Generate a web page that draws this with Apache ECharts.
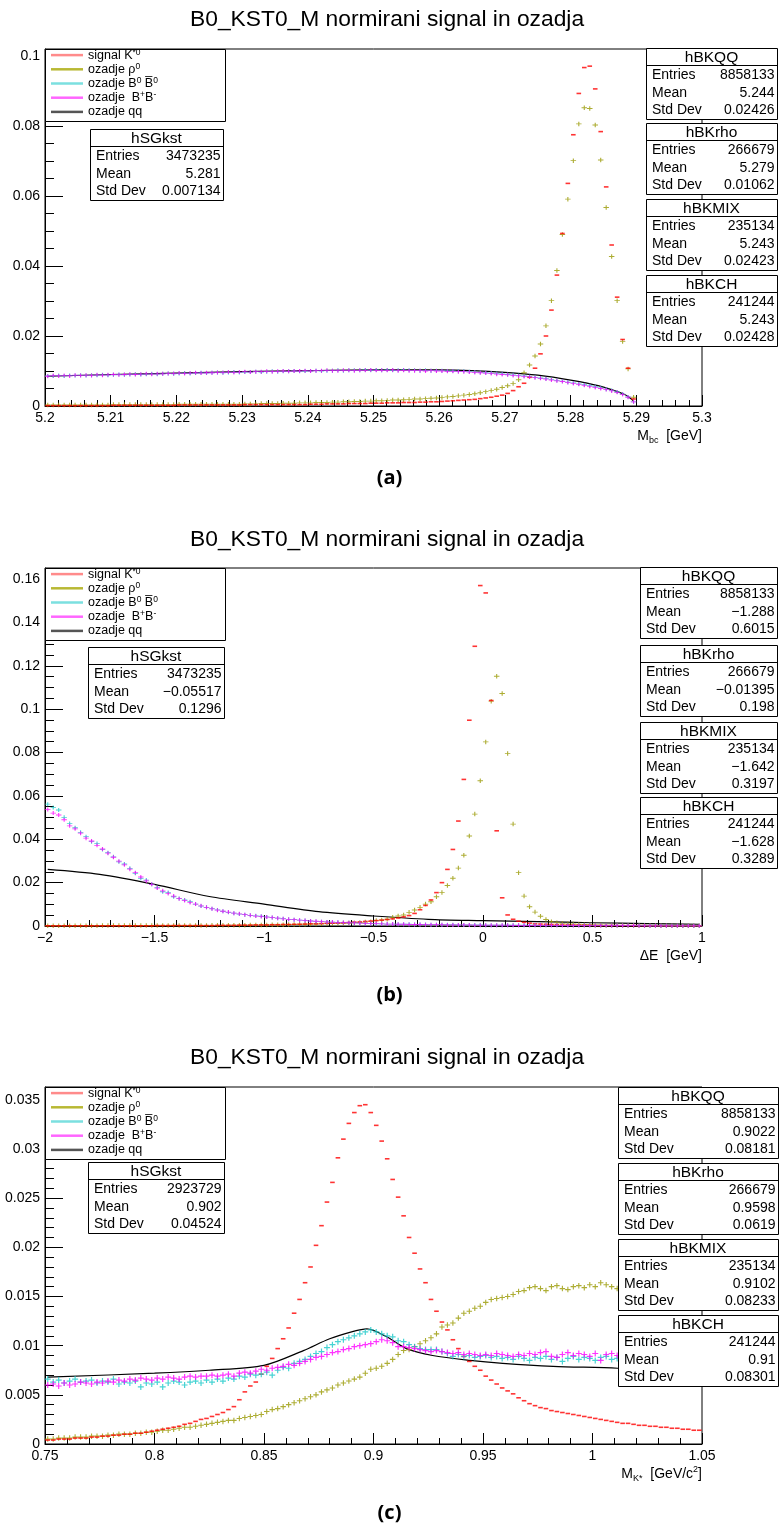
<!DOCTYPE html>
<html>
<head>
<meta charset="utf-8">
<script src="https://cdn.jsdelivr.net/npm/echarts@6/dist/echarts.min.js"></script>
<style>
html, body { margin: 0; padding: 0; background: #fff; }
#chart { width: 779px; height: 1529px; }
</style>
</head>
<body>
<div id="chart"></div>
<script>
var FONT = 'Liberation Sans, Arial, sans-serif';
var TITLE = 'B0_KST0_M normirani signal in ozadja';
var NAMES = ['signal K*0', 'ozadje rho0', 'ozadje B0 B0bar', 'ozadje B+B-', 'ozadje qq'];

// histogram ranges, 120 bins each
var rangeA = [5.2, 5.3];
var rangeB = [-2, 1];
var rangeC = [0.75, 1.05];

// ---- panel (a): M_bc ----
var redA = [
  0.0001,0.0001,0.0001,0.0001,0.0001,0.0001,0.0001,0.0001,0.0001,0.0001,0.0001,0.0001,
  0.0002,0.0002,0.0002,0.0002,0.0002,0.0002,0.0002,0.0002,0.0002,0.0002,0.0002,0.0002,
  0.0003,0.0003,0.0003,0.0003,0.0003,0.0003,0.0003,0.0003,0.0003,0.0003,0.0003,0.0003,
  0.0004,0.0004,0.0004,0.0004,0.0004,0.0004,0.0004,0.0004,0.0004,0.0004,0.0004,0.0004,
  0.0005,0.0005,0.0005,0.0006,0.0006,0.0006,0.0006,0.0007,0.0007,0.0007,0.0007,0.0008,
  0.0008,0.0008,0.0009,0.0009,0.0009,0.001,0.001,0.001,0.0011,0.0011,0.0012,0.0012,
  0.0013,0.0014,0.0015,0.0016,0.0017,0.0018,0.0019,0.0021,0.0023,0.0025,0.0028,0.0031,0.0036,0.0044,
  0.0055,0.0065,0.0082,0.0108,0.0149,0.020,0.0274,0.0374,0.0493,0.0636,0.0775,0.0893,
  0.0967,0.0971,0.0906,0.0784,0.0626,0.046,0.0311,0.019,0.0108,0.002,
  0,0,0,0,0,0,0,0,0,0,0,0
];
var oliveA = [
  0.0003,0.0003,0.0003,0.0003,0.0003,0.0003,0.0003,0.0003,0.0003,0.0003,0.0003,0.0003,
  0.0004,0.0004,0.0004,0.0004,0.0004,0.0004,0.0004,0.0004,0.0004,0.0004,0.0004,0.0004,
  0.0005,0.0005,0.0005,0.0005,0.0005,0.0005,0.0005,0.0005,0.0005,0.0005,0.0005,0.0005,
  0.0006,0.0006,0.0006,0.0007,0.0007,0.0007,0.0007,0.0008,0.0008,0.0008,0.0009,0.0009,
  0.0009,0.001,0.001,0.001,0.0011,0.0011,0.0012,0.0012,0.0013,0.0013,0.0014,0.0014,
  0.0015,0.0015,0.0016,0.0017,0.0017,0.0018,0.0019,0.002,0.002,0.0021,0.0022,0.0023,
  0.0024,0.0026,0.0027,0.0029,0.0031,0.0033,0.0035,0.0038,0.0041,0.0044,0.0048,0.0053,0.0058,0.0064,0.0075,0.0095,
  0.0117,0.0143,0.0177,0.0229,0.0301,0.0387,0.049,0.0591,0.0701,0.0806,
  0.0852,0.085,0.0803,0.0703,0.0567,0.0427,0.0301,0.0184,0.0106,0.0025,
  0,0,0,0,0,0,0,0,0,0,0,0
];
var cyanA = [
  0.0086,0.0086,0.0087,0.0086,0.0087,0.0087,0.0088,0.0087,0.0088,0.0088,0.0089,0.0088,
  0.0089,0.009,0.0089,0.009,0.0091,0.009,0.0091,0.0092,0.0091,0.0092,0.0093,0.0092,
  0.0093,0.0094,0.0093,0.0094,0.0095,0.0094,0.0095,0.0096,0.0095,0.0096,0.0097,0.0096,
  0.0097,0.0097,0.0098,0.0097,0.0098,0.0099,0.0098,0.0099,0.0099,0.01,0.0099,0.01,
  0.01,0.0101,0.01,0.0101,0.0101,0.0102,0.0101,0.0102,0.0102,0.0102,0.0103,0.0102,
  0.0103,0.0102,0.0103,0.0102,0.0102,0.0103,0.0102,0.0102,0.0101,0.0102,0.0101,0.0101,
  0.0101,0.01,0.01,0.0099,0.0099,0.0098,0.0097,0.0096,0.0095,0.0094,0.0093,0.0092,
  0.009,0.0089,0.0087,0.0086,0.0084,0.0082,0.008,0.0078,0.0076,0.0073,0.0071,0.0068,
  0.0066,0.0063,0.0061,0.0058,0.0055,0.0052,0.0048,0.0044,0.004,0.0034,0.0026,0.0012,
  0,0,0,0,0,0,0,0,0,0,0,0
];
var magentaA = [
  0.0085,0.0087,0.0086,0.0087,0.0086,0.0088,0.0087,0.0088,0.0087,0.0089,0.0088,0.0089,
  0.009,0.0089,0.009,0.0091,0.009,0.0091,0.0092,0.0091,0.0092,0.0092,0.0093,0.0093,
  0.0094,0.0093,0.0094,0.0095,0.0094,0.0095,0.0095,0.0096,0.0096,0.0097,0.0096,0.0097,
  0.0098,0.0097,0.0098,0.0098,0.0099,0.0098,0.0099,0.01,0.0099,0.01,0.01,0.0101,
  0.01,0.0101,0.0101,0.0102,0.0101,0.0101,0.0102,0.0102,0.0101,0.0102,0.0102,0.0103,
  0.0102,0.0102,0.0102,0.0103,0.0101,0.0102,0.0101,0.0101,0.0101,0.01,0.0101,0.01,
  0.01,0.0099,0.0099,0.0098,0.0098,0.0097,0.0096,0.0095,0.0094,0.0093,0.0091,0.009,
  0.0089,0.0087,0.0086,0.0084,0.0083,0.0081,0.0079,0.0077,0.0074,0.0072,0.007,0.0067,
  0.0064,0.0062,0.0059,0.0056,0.0053,0.005,0.0047,0.0043,0.0039,0.0033,0.0025,0.0012,
  0,0,0,0,0,0,0,0,0,0,0,0
];
var blackAx = [5.2004, 5.21, 5.22, 5.23, 5.24, 5.25, 5.26, 5.265, 5.27, 5.275, 5.28, 5.2842, 5.2883, 5.2896];
var blackAy = [0.0085, 0.009, 0.0094, 0.0098, 0.0101, 0.0103, 0.0103, 0.0101, 0.0096, 0.0088, 0.0074, 0.0058, 0.0032, 0.0014];

// ---- panel (b): delta E ----
var redB = [
  0.0001,0.0001,0.0001,0.0001,0.0001,0.0001,0.0001,0.0001,0.0001,0.0001,
  0.0001,0.0001,0.0001,0.0001,0.0001,0.0001,0.0001,0.0001,0.0001,0.0001,
  0.0002,0.0002,0.0002,0.0002,0.0002,0.0002,0.0002,0.0002,0.0002,0.0002,
  0.0002,0.0003,0.0003,0.0003,0.0003,0.0004,0.0004,0.0004,0.0005,0.0005,
  0.0005,0.0006,0.0006,0.0007,0.0007,0.0008,0.0008,0.0009,0.001,0.001,
  0.0011,0.0012,0.0013,0.0014,0.0015,0.0016,0.0018,0.0019,0.0021,0.0023,
  0.0025,0.0027,0.003,0.0033,0.0037,0.0042,0.0048,0.0058,0.0075,0.0095,
  0.012,0.0154,0.02,0.0261,0.0353,0.0484,0.0676,0.0949,0.129,0.157,
  0.1536,0.104,0.0439,0.013,0.0051,0.0031,0.0022,0.0017,0.0013,0.001,
  0.0009,0.0008,0.0007,0.0006,0.0005,0.0005,0.0004,0.0004,0.0003,0.0003,
  0.0002,0.0002,0.0002,0.0002,0.0002,0.0002,0.0002,0.0002,0.0002,0.0002,
  0.0001,0.0001,0.0001,0.0001,0.0001,0.0001,0.0001,0.0001,0.0001,0.0001
];
var oliveB = [
  0.0001,0.0001,0.0001,0.0001,0.0001,0.0001,0.0001,0.0001,0.0001,0.0001,
  0.0002,0.0002,0.0002,0.0002,0.0002,0.0002,0.0002,0.0002,0.0002,0.0002,
  0.0002,0.0002,0.0002,0.0002,0.0002,0.0002,0.0002,0.0002,0.0002,0.0002,
  0.0003,0.0003,0.0003,0.0004,0.0004,0.0004,0.0004,0.0005,0.0005,0.0005,
  0.0005,0.0006,0.0006,0.0006,0.0007,0.0007,0.0008,0.0008,0.0009,0.0009,
  0.001,0.0011,0.0012,0.0012,0.0013,0.0014,0.0015,0.0016,0.0018,0.002,
  0.0025,0.0028,0.0031,0.004,0.0046,0.0051,0.0063,0.0074,0.0086,0.0101,
  0.0112,0.0135,0.0154,0.0187,0.022,0.0267,0.0326,0.0415,0.0516,0.067,
  0.0849,0.1037,0.1152,0.1072,0.0796,0.047,0.0246,0.0138,0.0089,0.0064,
  0.0045,0.003,0.002,0.0015,0.0012,0.001,0.0009,0.0008,0.0007,0.0006,
  0.0005,0.0005,0.0004,0.0004,0.0003,0.0003,0.0002,0.0002,0.0002,0.0002,
  0.0002,0.0002,0.0001,0.0001,0.0001,0.0001,0.0001,0.0001,0.0001,0.0001
];
var cyanB = [
  0.0562,0.0547,0.0535,0.0501,0.0473,0.0453,0.0432,0.0412,0.0389,0.0381,
  0.0353,0.0338,0.0319,0.0296,0.0286,0.0266,0.0243,0.022,0.0212,0.0192,
  0.0177,0.0158,0.0154,0.0135,0.0127,0.012,0.0112,0.0101,0.0092,0.0086,
  0.008,0.0074,0.0068,0.0063,0.0059,0.0055,0.0052,0.0049,0.0047,0.0045,
  0.0042,0.0039,0.0036,0.0034,0.0031,0.0029,0.0027,0.0025,0.0023,0.0021,
  0.002,0.0019,0.0018,0.0017,0.0016,0.0015,0.0014,0.0013,0.0012,0.0011,
  0.001,0.001,0.0009,0.0009,0.0008,0.0008,0.0008,0.0007,0.0007,0.0007,
  0.0006,0.0006,0.0006,0.0006,0.0006,0.0005,0.0005,0.0005,0.0005,0.0005,
  0.0004,0.0004,0.0004,0.0004,0.0004,0.0004,0.0004,0.0004,0.0004,0.0004,
  0.0003,0.0003,0.0003,0.0003,0.0003,0.0003,0.0003,0.0003,0.0003,0.0003,
  0.0002,0.0002,0.0002,0.0002,0.0002,0.0002,0.0002,0.0002,0.0002,0.0002,
  0.0001,0.0001,0.0001,0.0001,0.0001,0.0001,0.0001,0.0001,0.0001,0.0001
];
var magentaB = [
  0.0537,0.0521,0.0512,0.049,0.0462,0.0448,0.0428,0.0405,0.0392,0.0372,
  0.0355,0.0336,0.0317,0.0299,0.0282,0.0262,0.0246,0.0226,0.0208,0.0192,
  0.0175,0.0162,0.015,0.0138,0.0126,0.0118,0.0108,0.0101,0.0093,0.0086,
  0.0079,0.0073,0.0068,0.0064,0.0059,0.0056,0.0052,0.0049,0.0046,0.0044,
  0.0041,0.0039,0.0036,0.0033,0.0031,0.0029,0.0027,0.0025,0.0023,0.0022,
  0.002,0.0019,0.0018,0.0017,0.0016,0.0015,0.0014,0.0013,0.0012,0.0011,
  0.0011,0.001,0.0009,0.0009,0.0008,0.0008,0.0007,0.0007,0.0007,0.0006,
  0.0006,0.0006,0.0006,0.0005,0.0005,0.0005,0.0005,0.0005,0.0004,0.0004,
  0.0004,0.0004,0.0004,0.0004,0.0004,0.0003,0.0003,0.0003,0.0003,0.0003,
  0.0003,0.0003,0.0003,0.0003,0.0003,0.0002,0.0002,0.0002,0.0002,0.0002,
  0.0002,0.0002,0.0002,0.0002,0.0002,0.0002,0.0002,0.0002,0.0001,0.0001,
  0.0001,0.0001,0.0001,0.0001,0.0001,0.0001,0.0001,0.0001,0.0001,0.0001
];
var blackBx = [-1.9875, -1.75, -1.5, -1.25, -1, -0.75, -0.5, -0.25, 0, 0.25, 0.5, 0.75, 0.9875];
var blackBy = [0.0261, 0.0238, 0.0192, 0.0136, 0.0101, 0.0066, 0.0046, 0.0031, 0.0025, 0.002, 0.0015, 0.0011, 0.0008];

// ---- panel (c): M_K* ----
var redC = [
  0.0004,0.0004,0.0005,0.0005,0.0005,0.0006,0.0006,0.0006,0.0007,0.0007,
  0.0008,0.0008,0.0009,0.0009,0.001,0.001,0.0011,0.0011,0.0012,0.0013,
  0.0014,0.0015,0.0016,0.0017,0.0018,0.002,0.0021,0.0023,0.0025,0.0026,
  0.0028,0.003,0.0032,0.0035,0.0038,0.0045,0.0053,0.0059,0.0063,0.0071,
  0.0079,0.0087,0.0097,0.0107,0.0118,0.0133,0.0147,0.0164,0.018,0.0202,
  0.0222,0.0246,0.0266,0.0291,0.031,0.0326,0.0337,0.0344,0.0345,0.0337,
  0.0324,0.0308,0.029,0.0269,0.0251,0.0232,0.021,0.0194,0.0178,0.0164,
  0.0147,0.0135,0.0124,0.0116,0.0106,0.0097,0.0089,0.0084,0.0079,0.0075,
  0.0069,0.0065,0.0061,0.0057,0.0054,0.0051,0.0047,0.0044,0.0041,0.0039,
  0.0037,0.0036,0.0034,0.0033,0.0032,0.0031,0.003,0.0029,0.0028,0.0027,
  0.0026,0.0025,0.0024,0.0023,0.0022,0.0021,0.0021,0.002,0.0019,0.0019,
  0.0018,0.0018,0.0017,0.0017,0.0016,0.0016,0.0015,0.0015,0.0014,0.0014
];
var oliveC = [
  0.0005,0.0005,0.0006,0.0006,0.0006,0.0007,0.0007,0.0007,0.0008,0.0008,
  0.0008,0.0009,0.0009,0.001,0.001,0.001,0.0011,0.0011,0.0012,0.0012,
  0.0013,0.0014,0.0014,0.0015,0.0016,0.0017,0.0017,0.0018,0.0019,0.002,
  0.0021,0.0022,0.0023,0.0024,0.0024,0.0026,0.0027,0.0028,0.0029,0.003,
  0.0033,0.0035,0.0036,0.0038,0.004,0.0042,0.0044,0.0046,0.0048,0.005,
  0.0053,0.0055,0.0057,0.006,0.0062,0.0064,0.0066,0.0068,0.0072,0.0076,
  0.0077,0.0079,0.0082,0.0086,0.0091,0.0095,0.0096,0.0099,0.0102,0.0105,
  0.0108,0.0112,0.0119,0.0121,0.0123,0.0128,0.0133,0.0135,0.0138,0.014,
  0.0144,0.0147,0.0148,0.0149,0.015,0.0152,0.0155,0.0156,0.0159,0.016,
  0.0158,0.0156,0.016,0.0161,0.0158,0.0157,0.016,0.0161,0.0159,0.0162,
  0.016,0.0164,0.0162,0.016,0.0158,0.0159,0.0157,0.0158,0.0156,0.0157,
  0.0155,0.0156,0.0154,0.0155,0.0153,0.0154,0.0152,0.0153,0.0151,0.0152
];
var cyanC = [
  0.0066,0.0063,0.0065,0.0062,0.0064,0.0066,0.0063,0.0064,0.0065,0.0062,
  0.0064,0.0063,0.0066,0.0061,0.0063,0.0062,0.0064,0.0058,0.0062,0.0061,
  0.0063,0.0058,0.0062,0.0064,0.0063,0.006,0.0063,0.0064,0.0062,0.0065,
  0.0063,0.0066,0.0064,0.0067,0.0066,0.0069,0.0068,0.0071,0.007,0.0071,
  0.0073,0.007,0.0075,0.0078,0.0077,0.0082,0.0084,0.0086,0.0089,0.0092,
  0.0094,0.0098,0.0101,0.0104,0.0106,0.0108,0.011,0.0112,0.0114,0.0116,
  0.0114,0.0112,0.011,0.0109,0.0105,0.0104,0.0101,0.0099,0.0097,0.0096,
  0.0096,0.0096,0.0094,0.0092,0.0089,0.0091,0.0089,0.009,0.0088,0.0089,
  0.009,0.0088,0.0089,0.0087,0.0088,0.0086,0.0089,0.0087,0.0085,0.0088,
  0.0087,0.0089,0.0086,0.0088,0.0084,0.0087,0.0089,0.0086,0.0088,0.0087,
  0.0085,0.0088,0.0089,0.0086,0.0087,0.0088,0.0085,0.0087,0.0086,0.0088,
  0.0089,0.0087,0.0086,0.0088,0.0087,0.0085,0.0088,0.0087,0.0086,0.0088
];
var magentaC = [
  0.006,0.0061,0.0059,0.0062,0.006,0.0061,0.0063,0.0062,0.0061,0.0063,
  0.0062,0.0064,0.0063,0.0065,0.0064,0.0066,0.0065,0.0067,0.0066,0.0065,
  0.0067,0.0066,0.0068,0.0067,0.0066,0.0068,0.0069,0.0068,0.0069,0.0069,
  0.007,0.0069,0.007,0.0071,0.0069,0.0072,0.0073,0.0072,0.0074,0.0076,
  0.0075,0.0077,0.0078,0.0079,0.0081,0.008,0.0082,0.0084,0.0086,0.0088,
  0.0089,0.0091,0.0093,0.0094,0.0096,0.0097,0.0099,0.01,0.0101,0.0102,
  0.0104,0.0106,0.0105,0.0103,0.0099,0.0099,0.0098,0.0097,0.0096,0.0095,
  0.0094,0.0095,0.0094,0.0093,0.0092,0.0093,0.0091,0.0092,0.0091,0.009,
  0.0091,0.009,0.0092,0.0091,0.009,0.0089,0.0091,0.009,0.0092,0.0091,
  0.0093,0.0094,0.0089,0.0088,0.0091,0.0093,0.009,0.0092,0.0091,0.0089,
  0.0092,0.0085,0.0091,0.0092,0.009,0.0091,0.0089,0.0093,0.009,0.0091,
  0.0092,0.009,0.0091,0.0093,0.009,0.0091,0.0092,0.009,0.0091,0.0093
];
var blackCx = [0.75125, 0.8, 0.825, 0.85, 0.868, 0.88, 0.89, 0.897, 0.906, 0.915, 0.927, 0.944, 0.959, 0.982, 1.0115, 1.04875];
var blackCy = [0.0068, 0.0072, 0.0075, 0.008, 0.0095, 0.0107, 0.0114, 0.0117, 0.0109, 0.0097, 0.009, 0.0085, 0.0082, 0.0079, 0.0077, 0.0072];

// stats boxes: title, entries, mean, std dev
var statsA = [
  ['hSGkst', '3473235', '5.281', '0.007134'],
  ['hBKQQ', '8858133', '5.244', '0.02426'],
  ['hBKrho', '266679', '5.279', '0.01062'],
  ['hBKMIX', '235134', '5.243', '0.02423'],
  ['hBKCH', '241244', '5.243', '0.02428']
];
var statsB = [
  ['hSGkst', '3473235', '\u22120.05517', '0.1296'],
  ['hBKQQ', '8858133', '\u22121.288', '0.6015'],
  ['hBKrho', '266679', '\u22120.01395', '0.198'],
  ['hBKMIX', '235134', '\u22121.642', '0.3197'],
  ['hBKCH', '241244', '\u22121.628', '0.3289']
];
var statsC = [
  ['hSGkst', '2923729', '0.902', '0.04524'],
  ['hBKQQ', '8858133', '0.9022', '0.08181'],
  ['hBKrho', '266679', '0.9598', '0.0619'],
  ['hBKMIX', '235134', '0.9102', '0.08233'],
  ['hBKCH', '241244', '0.91', '0.08301']
];

var PLUS = 'path://M0,4h10v2h-10z M4,0h2v10h-2z';
var tops = [49, 568, 1087];
var heights = [357, 358, 357];

function hist(range, vals) {
  var w = (range[1] - range[0]) / vals.length, pts = [];
  for (var i = 0; i < vals.length; i++) {
    if (vals[i] > 0) pts.push([range[0] + (i + 0.5) * w, vals[i]]);
  }
  return pts;
}
function pairs(xs, ys) {
  return xs.map(function (x, i) { return [x, ys[i]]; });
}

function panel(k, range, red, olive, cyan, magenta, bx, by, big) {
  var base = { type: 'scatter', xAxisIndex: k, yAxisIndex: k, silent: true, z: 2 };
  return [
    Object.assign({}, base, { name: NAMES[1], data: hist(range, olive), symbol: PLUS,
      symbolSize: big ? [5.5, 5.5] : [5.5, 4.5], itemStyle: { color: '#999900' } }),
    Object.assign({}, base, { name: NAMES[0], data: hist(range, red), symbol: 'rect',
      symbolSize: [4.6, 1.6], itemStyle: { color: '#ff0000' } }),
    Object.assign({}, base, { name: NAMES[2], data: hist(range, cyan), symbol: PLUS,
      symbolSize: big ? [6, 6] : [5.5, 4], itemStyle: { color: '#19c8c8' } }),
    Object.assign({}, base, { name: NAMES[3], data: hist(range, magenta), symbol: PLUS,
      symbolSize: big ? [6, 6] : [5.5, 4], itemStyle: { color: '#ff00ff' } }),
    { name: NAMES[4], type: 'line', xAxisIndex: k, yAxisIndex: k, silent: true, z: 2,
      data: pairs(bx, by), showSymbol: false, smooth: 0.3,
      lineStyle: { color: '#000', width: 1.2 }, itemStyle: { color: '#000' } }
  ];
}

var nameRich = {
  t: { fontFamily: FONT, fontSize: 14, color: '#000', lineHeight: 18 },
  sb: { fontFamily: FONT, fontSize: 9, color: '#000', lineHeight: 18, verticalAlign: 'bottom' },
  sp: { fontFamily: FONT, fontSize: 9, color: '#000', lineHeight: 18, verticalAlign: 'top' }
};

function xAx(k, range, step, fmt, name) {
  return {
    type: 'value', gridIndex: k, min: range[0], max: range[1], interval: step,
    axisLine: { show: true, onZero: false, lineStyle: { color: '#000', width: 1 } },
    axisTick: { show: true, inside: true, length: 11, lineStyle: { color: '#000' } },
    minorTick: { show: true, splitNumber: 5, length: 6, lineStyle: { color: '#000' } },
    splitLine: { show: false },
    axisLabel: { color: '#000', fontFamily: FONT, fontSize: 14, margin: 5, formatter: fmt },
    name: name, nameLocation: 'end', nameGap: 0,
    nameTextStyle: { align: 'right', verticalAlign: 'top', padding: [21, 0, 0, 0],
      fontFamily: FONT, fontSize: 14, color: '#000', rich: nameRich }
  };
}
function yAx(k, max, step, minor) {
  return {
    type: 'value', gridIndex: k, min: 0, max: max, interval: step,
    axisLine: { show: true, onZero: false, lineStyle: { color: '#000', width: 1 } },
    axisTick: { show: true, inside: true, length: 18, lineStyle: { color: '#000' } },
    minorTick: { show: true, splitNumber: minor, length: 9, lineStyle: { color: '#000' } },
    splitLine: { show: false },
    axisLabel: { color: '#000', fontFamily: FONT, fontSize: 14, margin: 5, showMaxLabel: false }
  };
}

var legRich = {
  t: { fontFamily: FONT, fontSize: 12.5, color: '#000', lineHeight: 14.2 },
  sp: { fontFamily: FONT, fontSize: 8.5, color: '#000', lineHeight: 14.2, verticalAlign: 'top' }
};
var legText = {
  'signal K*0': '{t|signal K}{sp|*0}',
  'ozadje rho0': '{t|ozadje \u03c1}{sp|0}',
  'ozadje B0 B0bar': '{t|ozadje B}{sp|0}{t| B\u0305}{sp|0}',
  'ozadje B+B-': '{t|ozadje  B}{sp|+}{t|B}{sp|-}',
  'ozadje qq': '{t|ozadje qq}'
};
var legColors = ['#ff6e6e', '#a6a600', '#5ad8d8', '#ff40ff', '#555555'];

function legend(k) {
  return {
    orient: 'vertical', left: 51, top: tops[k] - 1, padding: 0, itemGap: 0,
    itemWidth: 32, itemHeight: 2.5, selectedMode: false, z: 4,
    textStyle: { fontFamily: FONT, fontSize: 12.5, color: '#000', lineHeight: 14.2, rich: legRich },
    formatter: function (n) { return legText[n]; },
    data: NAMES.map(function (n, j) {
      return { name: n, icon: 'rect', itemStyle: { color: legColors[j] } };
    })
  };
}

function txt(x, y, s, size, align) {
  return { type: 'text', x: x, y: y, z: 11,
    style: { text: s, fontFamily: FONT, fontSize: size, fill: '#000',
      textAlign: align, textVerticalAlign: 'middle', align: align, verticalAlign: 'middle' } };
}
function statBox(x, y, w, s) {
  return {
    type: 'group', x: x, y: y, z: 10,
    children: [
      { type: 'rect', z: 10, shape: { x: 0.5, y: 0.5, width: w, height: 71 },
        style: { fill: '#fff', stroke: '#000', lineWidth: 1 } },
      { type: 'line', z: 10, shape: { x1: 0.5, y1: 17.5, x2: w + 0.5, y2: 17.5 },
        style: { stroke: '#000', lineWidth: 1 } },
      txt(w / 2, 9.5, s[0], 15.5, 'center'),
      txt(6, 27.5, 'Entries', 14, 'left'),
      txt(6, 45, 'Mean', 14, 'left'),
      txt(6, 62.5, 'Std Dev', 14, 'left'),
      txt(w - 2.5, 27.5, s[1], 14, 'right'),
      txt(w - 2.5, 45, s[2], 14, 'right'),
      txt(w - 2.5, 62.5, s[3], 14, 'right')
    ]
  };
}
function legFrame(k) {
  return { type: 'rect', z: 3, shape: { x: 45.5, y: tops[k] + 0.5, width: 180, height: 72 },
    style: { fill: '#fff', stroke: '#000', lineWidth: 1 } };
}

var graphics = [legFrame(0), legFrame(1), legFrame(2)];
graphics.push(statBox(90, 129, 133, statsA[0]));
[48, 123, 199, 275].forEach(function (y, j) { graphics.push(statBox(646, y, 131, statsA[j + 1])); });
graphics.push(statBox(88, 647, 136, statsB[0]));
[567, 645, 722, 797].forEach(function (y, j) { graphics.push(statBox(640, y, 137, statsB[j + 1])); });
graphics.push(statBox(88, 1162, 136, statsC[0]));
[1087, 1163, 1239, 1315].forEach(function (y, j) { graphics.push(statBox(618, y, 160, statsC[j + 1])); });

var titleStyle = { fontFamily: FONT, fontSize: 22.8, fontWeight: 'normal', color: '#000' };
var capStyle = { fontFamily: 'Open Sans', fontSize: 20, fontWeight: 'bold', color: '#000' };

var option = {
  animation: false,
  backgroundColor: '#fff',
  title: [
    { text: TITLE, left: 190, top: 8, padding: 0, textStyle: titleStyle },
    { text: TITLE, left: 190, top: 528, padding: 0, textStyle: titleStyle },
    { text: TITLE, left: 190, top: 1046, padding: 0, textStyle: titleStyle },
    { text: '(a)', left: 'center', top: 468, padding: 0, textStyle: capStyle },
    { text: '(b)', left: 'center', top: 985, padding: 0, textStyle: capStyle },
    { text: '(c)', left: 'center', top: 1503, padding: 0, textStyle: capStyle }
  ],
  grid: [0, 1, 2].map(function (k) {
    return { left: 45, top: tops[k], width: 657, height: heights[k], show: true,
      borderColor: '#000', borderWidth: 1, backgroundColor: 'transparent' };
  }),
  xAxis: [
    xAx(0, rangeA, 0.01, function (v) { return String(+v.toFixed(2)); }, '{t|M}{sb|bc}{t|  [GeV]}'),
    xAx(1, rangeB, 0.5, function (v) { return String(+v.toFixed(2)).replace('-', '\u2212'); }, '{t|\u0394E  [GeV]}'),
    xAx(2, rangeC, 0.05, function (v) { return String(+v.toFixed(2)); }, '{t|M}{sb|K*}{t|  [GeV/c}{sp|2}{t|]}')
  ],
  yAxis: [
    yAx(0, 0.102, 0.02, 4),
    yAx(1, 0.1651, 0.02, 4),
    yAx(2, 0.0363, 0.005, 5)
  ],
  legend: [legend(0), legend(1), legend(2)],
  series: [].concat(
    panel(0, rangeA, redA, oliveA, cyanA, magentaA, blackAx, blackAy, false),
    panel(1, rangeB, redB, oliveB, cyanB, magentaB, blackBx, blackBy, false),
    panel(2, rangeC, redC, oliveC, cyanC, magentaC, blackCx, blackCy, true)
  ),
  graphic: { elements: graphics }
};

var chart = echarts.init(document.getElementById('chart'));
chart.setOption(option);
</script>
</body>
</html>
